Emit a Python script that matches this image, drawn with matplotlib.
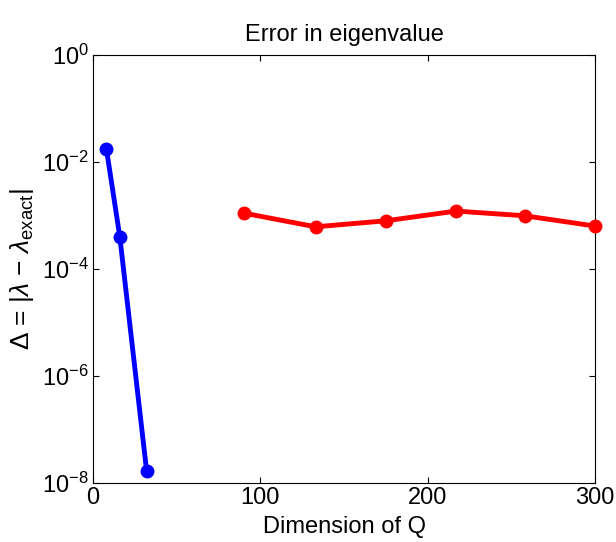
import numpy as np
import matplotlib.pyplot as plt

plt.rcParams['font.family'] = ['Liberation Sans', 'DejaVu Sans']
plt.rcParams['mathtext.fontset'] = 'custom'
plt.rcParams['mathtext.rm'] = 'Liberation Sans'
plt.rcParams['mathtext.it'] = 'Liberation Sans:italic'

# small-dimension runs
dim_small = [8, 16, 32]
err_small = [1.75e-2, 4.0e-4, 1.7e-8]

# large-dimension runs
dim_large = [90, 133, 175, 217, 258, 300]
err_large = [1.1e-3, 6.1e-4, 7.9e-4, 1.2e-3, 9.8e-4, 6.3e-4]

fig = plt.figure(figsize=(6.16, 5.42), dpi=100)
ax = fig.add_axes([0.151, 0.109, 0.815, 0.790])

ax.semilogy(dim_small, err_small, '-o', color='#0000ff', linewidth=3.5,
            markersize=9, clip_on=False, zorder=3)
ax.semilogy(dim_large, err_large, '-o', color='#ff0000', linewidth=3.5,
            markersize=9, clip_on=False, zorder=3)

ax.set_xlim(0, 300)
ax.set_ylim(1e-8, 1)
ax.set_xticks([0, 100, 200, 300])
ax.set_yticks([1e-8, 1e-6, 1e-4, 1e-2, 1])
ax.minorticks_off()
ax.tick_params(direction='in', labelsize=17, length=4, top=True, right=True,
               labeltop=False, labelright=False, pad=3)

ax.set_title('Error in eigenvalue', fontsize=17, pad=10)
ax.set_xlabel('Dimension of Q', fontsize=17, labelpad=5)
ax.set_ylabel(r'$\Delta$ = |$\lambda$ $-$ $\lambda_{\rm exact}$|', fontsize=19, labelpad=4)

fig.savefig('out.png', dpi=100)
